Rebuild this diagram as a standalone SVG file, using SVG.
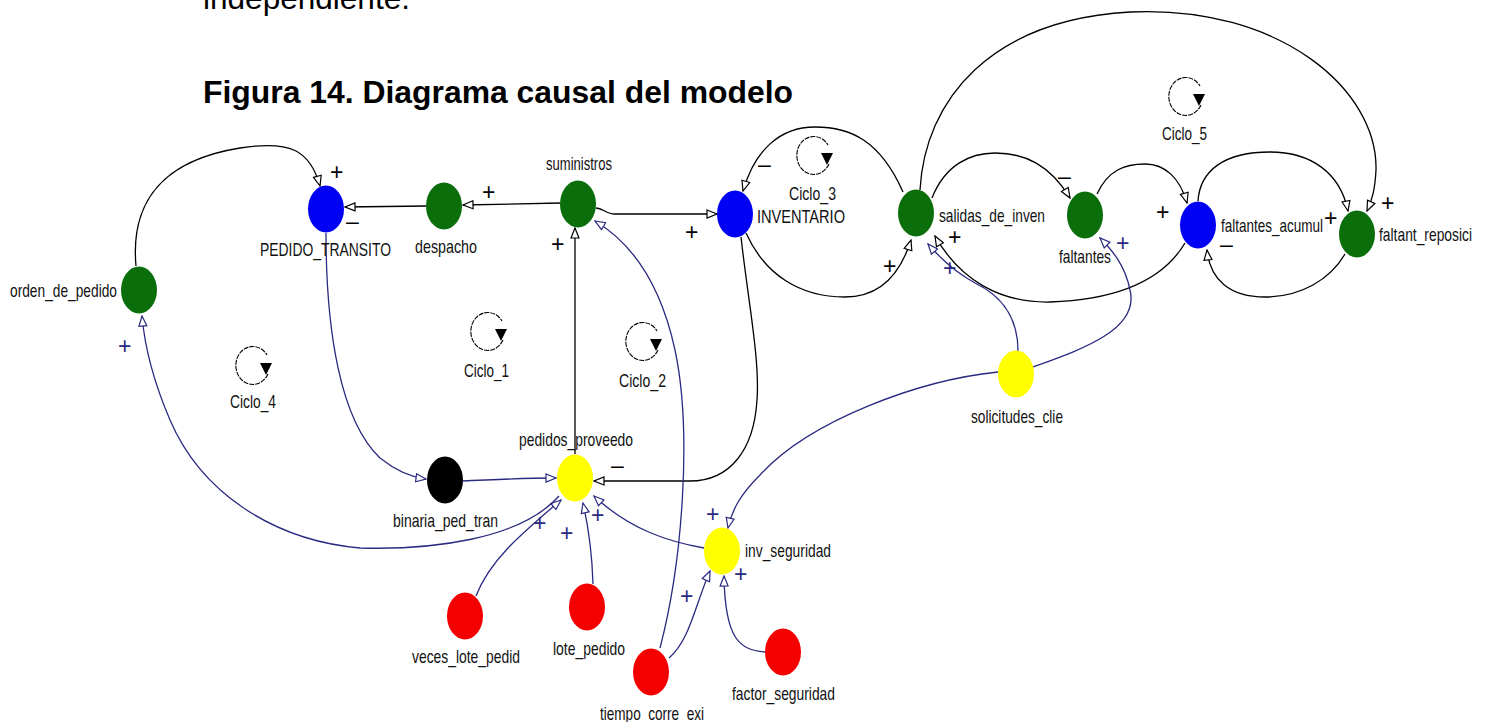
<svg xmlns="http://www.w3.org/2000/svg" width="1486" height="722" viewBox="0 0 1486 722">
<style>
.lbl{font-family:"Liberation Sans",Arial,sans-serif;font-size:19px;fill:#111}
.sg{font-family:"Liberation Sans",Arial,sans-serif;font-size:23px;fill:#000}
.sgb{font-family:"Liberation Sans",Arial,sans-serif;font-size:23px;fill:#2a2a80}
.k{fill:none;stroke:#000;stroke-width:1.3}
.b{fill:none;stroke:#2a2a80;stroke-width:1.3}
.green{fill:#0a6e0a}
.blue{fill:#0000f5}
.yellow{fill:#ffff00}
.red{fill:#f50000}
.black{fill:#000}
.loop{fill:none;stroke:#000;stroke-width:1.1;stroke-dasharray:5 1}
.title{font-family:"Liberation Sans",Arial,sans-serif;font-weight:bold;font-size:32px;fill:#000}
.body{font-family:"Liberation Sans",Arial,sans-serif;font-size:31px;fill:#000}
</style>
<defs>
<marker id="ak" viewBox="0 0 12 10" refX="11" refY="5" markerWidth="12" markerHeight="10" markerUnits="userSpaceOnUse" orient="auto"><path d="M1,1 L11,5 L1,9 Z" fill="#fff" stroke="#000" stroke-width="1.2"/></marker>
<marker id="ab" viewBox="0 0 12 10" refX="11" refY="5" markerWidth="12" markerHeight="10" markerUnits="userSpaceOnUse" orient="auto"><path d="M1,1 L11,5 L1,9 Z" fill="#fff" stroke="#2a2a80" stroke-width="1.2"/></marker>
</defs>
<rect width="1486" height="722" fill="#fff"/>
<text class="body" x="203" y="9" textLength="207" lengthAdjust="spacingAndGlyphs">independiente.</text>
<text class="title" x="203" y="103" textLength="590" lengthAdjust="spacingAndGlyphs">Figura 14. Diagrama causal del modelo</text>

<g id="connectors">
<path class="k" d="M136,266 C130,200 165,160 240,148 C290,140 310,150 320,186" marker-end="url(#ak)"/>
<path class="k" d="M426,206 L345,207" marker-end="url(#ak)"/>
<path class="k" d="M560,203 L463,205" marker-end="url(#ak)"/>
<path class="k" d="M596,208 C603,208 606,214 615,214 L717,214" marker-end="url(#ak)"/>
<path class="k" d="M575,454 L575,228" marker-end="url(#ak)"/>
<path class="k" d="M741,237 C748,300 760,360 757,400 C754,450 730,481 690,481 L594,481" marker-end="url(#ak)"/>
<path class="k" d="M746,233 C765,275 800,297 845,297 C880,297 900,275 911,240" marker-end="url(#ak)"/>
<path class="k" d="M903,192 C880,140 850,127 815,127 C780,127 755,150 743,191" marker-end="url(#ak)"/>
<path class="k" d="M932,198 C945,165 970,153 995,153 C1025,153 1050,165 1070,198" marker-end="url(#ak)"/>
<path class="k" d="M920,190 C925,100 990,20 1130,12 C1280,5 1378,90 1376,170 C1375,190 1372,200 1367,211" marker-end="url(#ak)"/>
<path class="k" d="M1097,194 C1108,170 1125,164 1145,164 C1165,164 1180,178 1187,203" marker-end="url(#ak)"/>
<path class="k" d="M1198,201 C1200,170 1225,152 1270,152 C1310,152 1340,172 1348,211" marker-end="url(#ak)"/>
<path class="k" d="M1345,254 C1330,280 1300,297 1265,297 C1230,297 1210,280 1207,250" marker-end="url(#ak)"/>
<path class="k" d="M1185,243 C1160,285 1110,300 1050,302 C1000,303 960,280 935,236" marker-end="url(#ak)"/>

<path class="b" d="M326,233 C326,330 340,420 380,458 C395,470 410,477 426,479" marker-end="url(#ab)"/>
<path class="b" d="M463,481 C490,480 520,478 556,478" marker-end="url(#ab)"/>
<path class="b" d="M476,596 C490,560 520,535 561,500" marker-end="url(#ab)"/>
<path class="b" d="M593,584 C592,550 588,525 583,503" marker-end="url(#ab)"/>
<path class="b" d="M704,548 C670,542 630,530 594,496" marker-end="url(#ab)"/>
<path class="b" d="M660,648 C683,560 692,430 675,350 C662,290 635,245 595,221" marker-end="url(#ab)"/>
<path class="b" d="M669,658 C690,640 695,605 710,571" marker-end="url(#ab)"/>
<path class="b" d="M765,652 C740,650 725,640 724,576" marker-end="url(#ab)"/>
<path class="b" d="M998,372 C920,380 810,420 760,475 C740,495 732,510 728,528" marker-end="url(#ab)"/>
<path class="b" d="M1018,351 C1018,315 1000,295 975,283 C955,272 940,258 928,244" marker-end="url(#ab)"/>
<path class="b" d="M1033,367 C1080,350 1140,330 1130,290 C1125,265 1112,250 1100,238" marker-end="url(#ab)"/>
<path class="b" d="M559,496 C520,540 430,550 360,548 C270,540 200,490 170,420 C155,385 145,350 142,316" marker-end="url(#ab)"/>

<text class="sg" x="330" y="180">+</text>
<text class="sg" x="346" y="229">–</text>
<text class="sg" x="482" y="200">+</text>
<text class="sg" x="685" y="240">+</text>
<text class="sg" x="551" y="252">+</text>
<text class="sg" x="611" y="473">–</text>
<text class="sg" x="883" y="274">+</text>
<text class="sg" x="758" y="172">–</text>
<text class="sg" x="1058" y="184">–</text>
<text class="sg" x="1381" y="211">+</text>
<text class="sg" x="1156" y="220">+</text>
<text class="sg" x="1324" y="226">+</text>
<text class="sg" x="1220" y="252">–</text>
<text class="sg" x="948" y="245">+</text>
<text class="sgb" x="118" y="354">+</text>
<text class="sgb" x="533" y="531">+</text>
<text class="sgb" x="560" y="541">+</text>
<text class="sgb" x="591" y="523">+</text>
<text class="sgb" x="680" y="604">+</text>
<text class="sgb" x="734" y="582">+</text>
<text class="sgb" x="706" y="522">+</text>
<text class="sgb" x="943" y="276">+</text>
<text class="sgb" x="1116" y="251">+</text>
</g>

<g id="loop_ciclo_3"><path class="loop" d="M829,164 A17,19 0 1 1 828,145"/><path d="M821,153 L833,153 L827,165 Z"/><text class="lbl" x="789" y="200" textLength="47" lengthAdjust="spacingAndGlyphs">Ciclo_3</text></g>
<g id="loop_ciclo_4"><path class="loop" d="M268,374 A17,19 0 1 1 267,355"/><path d="M260,363 L272,363 L266,375 Z"/><text class="lbl" x="230" y="408" textLength="46" lengthAdjust="spacingAndGlyphs">Ciclo_4</text></g>
<g id="loop_ciclo_1"><path class="loop" d="M503,340 A17,19 0 1 1 502,321"/><path d="M495,329 L507,329 L501,341 Z"/><text class="lbl" x="464" y="377" textLength="45" lengthAdjust="spacingAndGlyphs">Ciclo_1</text></g>
<g id="loop_ciclo_2"><path class="loop" d="M658,350 A17,19 0 1 1 657,331"/><path d="M650,339 L662,339 L656,351 Z"/><text class="lbl" x="619" y="387" textLength="47" lengthAdjust="spacingAndGlyphs">Ciclo_2</text></g>
<g id="loop_ciclo_5"><path class="loop" d="M1201,105 A17,19 0 1 1 1200,86"/><path d="M1193,94 L1205,94 L1199,106 Z"/><text class="lbl" x="1162" y="140" textLength="45" lengthAdjust="spacingAndGlyphs">Ciclo_5</text></g>

<g id="PEDIDO_TRANSITO"><ellipse class="blue" cx="326" cy="209" rx="18" ry="23.5"/><text class="lbl" x="260" y="256" textLength="131" lengthAdjust="spacingAndGlyphs">PEDIDO_TRANSITO</text></g>
<g id="despacho"><ellipse class="green" cx="444" cy="206" rx="18" ry="23.5"/><text class="lbl" x="415" y="253" textLength="62" lengthAdjust="spacingAndGlyphs">despacho</text></g>
<g id="suministros"><ellipse class="green" cx="578" cy="204" rx="18" ry="23.5"/><text class="lbl" x="546" y="170" textLength="66" lengthAdjust="spacingAndGlyphs">suministros</text></g>
<g id="INVENTARIO"><ellipse class="blue" cx="735" cy="214" rx="18" ry="23.5"/><text class="lbl" x="757" y="223" textLength="88" lengthAdjust="spacingAndGlyphs">INVENTARIO</text></g>
<g id="salidas_de_inven"><ellipse class="green" cx="916" cy="213" rx="18" ry="23.5"/><text class="lbl" x="939" y="222" textLength="106" lengthAdjust="spacingAndGlyphs">salidas_de_inven</text></g>
<g id="faltantes"><ellipse class="green" cx="1085" cy="215" rx="18" ry="23.5"/><text class="lbl" x="1059" y="263" textLength="52" lengthAdjust="spacingAndGlyphs">faltantes</text></g>
<g id="faltantes_acumul"><ellipse class="blue" cx="1198" cy="225" rx="18" ry="23.5"/><text class="lbl" x="1221" y="232" textLength="102" lengthAdjust="spacingAndGlyphs">faltantes_acumul</text></g>
<g id="faltant_reposici"><ellipse class="green" cx="1357" cy="234" rx="18" ry="23.5"/><text class="lbl" x="1379" y="241" textLength="93" lengthAdjust="spacingAndGlyphs">faltant_reposici</text></g>
<g id="orden_de_pedido"><ellipse class="green" cx="139" cy="290" rx="18" ry="23.5"/><text class="lbl" x="10" y="297" textLength="107" lengthAdjust="spacingAndGlyphs">orden_de_pedido</text></g>
<g id="binaria_ped_tran"><ellipse class="black" cx="445" cy="480" rx="18" ry="23.5"/><text class="lbl" x="393" y="527" textLength="105" lengthAdjust="spacingAndGlyphs">binaria_ped_tran</text></g>
<g id="pedidos_proveedo"><ellipse class="yellow" cx="575" cy="478" rx="18" ry="23.5"/><text class="lbl" x="519" y="446" textLength="114" lengthAdjust="spacingAndGlyphs">pedidos_proveedo</text></g>
<g id="inv_seguridad"><ellipse class="yellow" cx="722" cy="551" rx="18" ry="23.5"/><text class="lbl" x="745" y="557" textLength="86" lengthAdjust="spacingAndGlyphs">inv_seguridad</text></g>
<g id="veces_lote_pedid"><ellipse class="red" cx="465" cy="616" rx="18" ry="23.5"/><text class="lbl" x="412" y="663" textLength="108" lengthAdjust="spacingAndGlyphs">veces_lote_pedid</text></g>
<g id="lote_pedido"><ellipse class="red" cx="587" cy="607" rx="18" ry="23.5"/><text class="lbl" x="553" y="655" textLength="72" lengthAdjust="spacingAndGlyphs">lote_pedido</text></g>
<g id="tiempo_corre_exi"><ellipse class="red" cx="651" cy="672" rx="18" ry="23.5"/><text class="lbl" x="600" y="720" textLength="104" lengthAdjust="spacingAndGlyphs">tiempo_corre_exi</text></g>
<g id="factor_seguridad"><ellipse class="red" cx="783" cy="652" rx="18" ry="23.5"/><text class="lbl" x="732" y="700" textLength="103" lengthAdjust="spacingAndGlyphs">factor_seguridad</text></g>
<g id="solicitudes_clie"><ellipse class="yellow" cx="1016" cy="374" rx="18" ry="23.5"/><text class="lbl" x="971" y="423" textLength="92" lengthAdjust="spacingAndGlyphs">solicitudes_clie</text></g>
</svg>
